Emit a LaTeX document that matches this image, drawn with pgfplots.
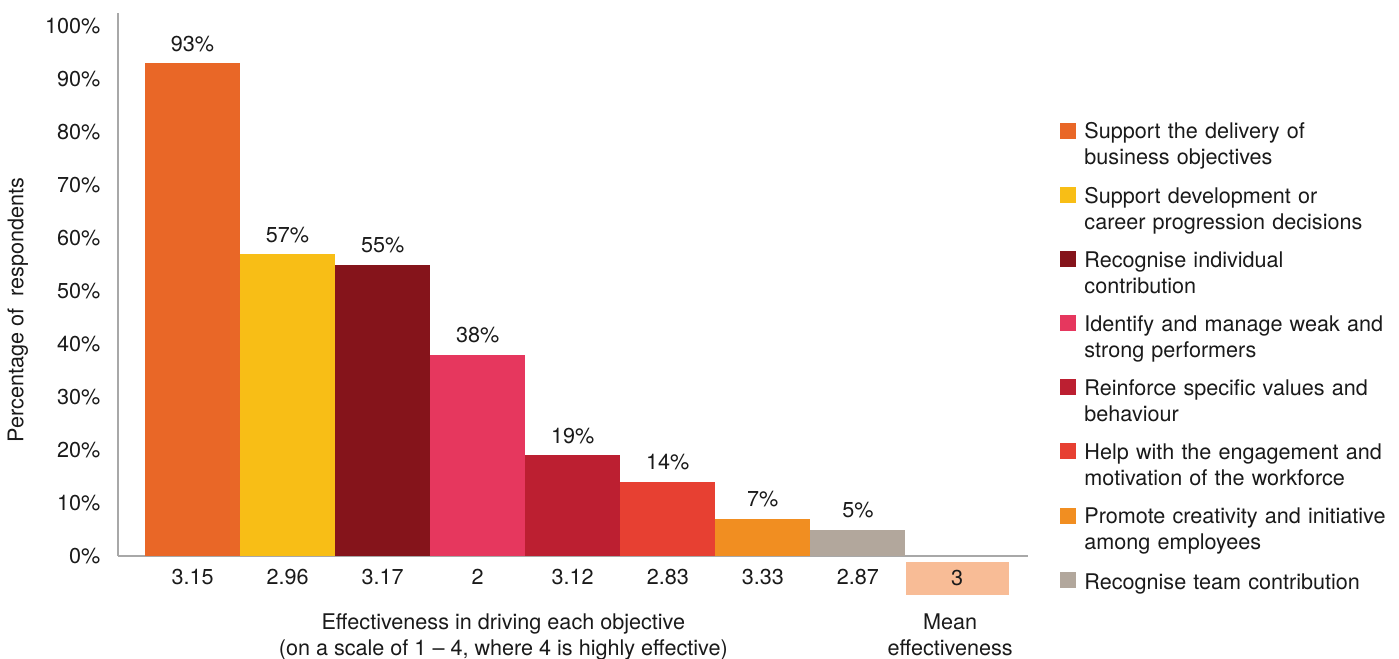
\documentclass[border=0pt]{standalone}
\usepackage{fontspec}
\setmainfont{TeX Gyre Heros}
\usepackage{pgfplots}
\pgfplotsset{compat=1.18}

\definecolor{cA}{HTML}{E96727}
\definecolor{cB}{HTML}{F8BE16}
\definecolor{cC}{HTML}{85141B}
\definecolor{cD}{HTML}{E6375E}
\definecolor{cE}{HTML}{BC1F31}
\definecolor{cF}{HTML}{E74032}
\definecolor{cG}{HTML}{F18E21}
\definecolor{cH}{HTML}{B2A79C}
\definecolor{meanbox}{HTML}{F8BC96}
\definecolor{axisgray}{HTML}{A8A8A8}
\definecolor{txt}{HTML}{1A1A1A}

\pgfplotsset{
  onebar/.style={ybar, bar width=1, bar shift=0pt, draw=none, fill=#1},
}
\newcommand{\chartfont}{\fontsize{10.8bp}{13bp}\selectfont}

\begin{document}
\chartfont
\begin{tikzpicture}
\path[use as bounding box] (-59bp,-51.5bp) rectangle (640.5bp,278bp);
\begin{axis}[
  name=ax, at={(0,0)}, anchor=south west,
  scale only axis, width=455bp, height=271.5bp,
  xmin=-0.784, xmax=8.79, ymin=0, ymax=102.5,
  clip=false,
  axis x line=bottom, axis y line=left,
  axis line style={draw=axisgray, line width=0.8bp, -},
  major tick length=0pt,
  font=\chartfont,
  every tick label/.append style={text=txt},
  /pgf/number format/assume math mode=true,
  ytick={0,10,...,100},
  yticklabel={\pgfmathprintnumber{\tick}\%},
  yticklabel style={xshift=-5bp},
  xtick={0,...,7},
  xticklabels={3.15,2.96,3.17,2,3.12,2.83,3.33,2.87},
  xticklabel style={yshift=-3bp},
  extra x ticks={8.045},
  extra x tick labels={{\setlength{\fboxsep}{0pt}\colorbox{meanbox}{\parbox[c][16.5bp][c]{51.5bp}{\centering 3}}}},
  extra x tick style={xticklabel style={yshift=4bp}},
  ylabel={Percentage of\ \ respondents},
  ylabel style={at={(axis description cs:-0.11,0.453)}, anchor=center, text=txt},
  nodes near coords={\pgfmathprintnumber{\pgfplotspointmeta}\%},
  every node near coord/.append style={anchor=base, yshift=6bp, text=txt},
  legend cell align=left,
  legend image code/.code={\fill[#1] (0bp,-3bp) rectangle (8bp,5bp);},
  legend style={at={(1.0352,0.799)}, anchor=north west, draw=none, fill=none,
    inner sep=0pt, row sep=22.3bp, text=txt,
    nodes={inner sep=0pt, text=txt, font=\chartfont, text width=160bp,
      align=left, execute at end node=\strut},
    /tikz/every odd column/.append style={column sep=4bp}},
]
\addplot[onebar=cA] coordinates {(0,93)};
\addlegendentry{Support the delivery of\\business objectives}
\addplot[onebar=cB] coordinates {(1,57)};
\addlegendentry{Support development or\\career progression decisions}
\addplot[onebar=cC] coordinates {(2,55)};
\addlegendentry{Recognise individual\\contribution}
\addplot[onebar=cD] coordinates {(3,38)};
\addlegendentry{Identify and manage weak and\\strong performers}
\addplot[onebar=cE] coordinates {(4,19)};
\addlegendentry{Reinforce specific values and\\behaviour}
\addplot[onebar=cF] coordinates {(5,14)};
\addlegendentry{Help with the engagement and\\motivation of the workforce}
\addplot[onebar=cG] coordinates {(6,7)};
\addlegendentry{Promote creativity and initiative\\among employees}
\addplot[onebar=cH] coordinates {(7,5)};
\addlegendentry{Recognise team contribution}

\node[anchor=base, text=txt] at (axis cs:3.27,0) [yshift=-36.5bp] {Effectiveness in driving each objective};
\node[anchor=base, text=txt] at (axis cs:3.27,0) [yshift=-49.5bp] {(on a scale of 1 -- 4, where 4 is highly effective)};
\node[anchor=base, text=txt] at (axis cs:7.97,0) [yshift=-36.5bp] {Mean};
\node[anchor=base, text=txt] at (axis cs:7.97,0) [yshift=-49.5bp] {effectiveness};
\end{axis}
\end{tikzpicture}
\end{document}
